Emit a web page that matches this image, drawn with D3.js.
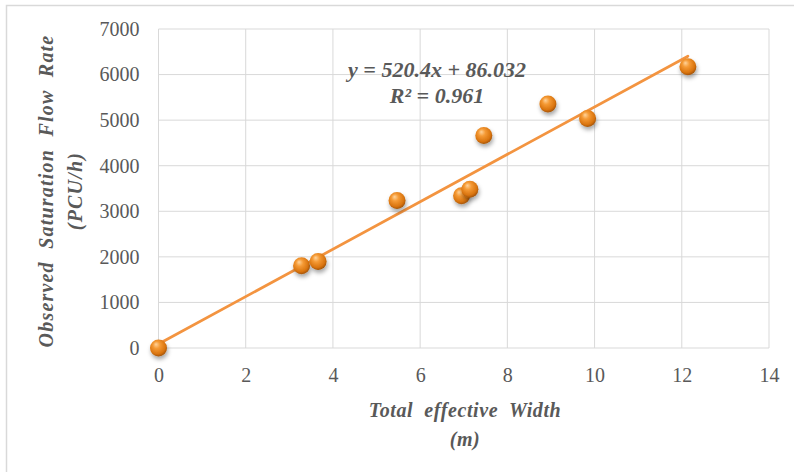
<!DOCTYPE html>
<html>
<head>
<meta charset="utf-8">
<script src="https://cdn.jsdelivr.net/npm/d3@7"></script>
<style>
  html, body { margin: 0; padding: 0; background: #fff; }
  svg { display: block; }
  svg text { font-family: "Liberation Serif", "Times New Roman", serif; }
</style>
</head>
<body>
<svg id="chart" width="794" height="472"></svg>
<script>
var widths = [0, 3.28, 3.66, 5.47, 6.95, 7.14, 7.46, 8.93, 9.84, 12.14];
var flows = [0, 1804, 1899, 3236, 3339, 3486, 4661, 5356, 5034, 6174];

// linear trendline as printed on the chart
var slope = 520.4;
var intercept = 86.032;
var eqLabels = ["y = 520.4x + 86.032", "R\u00b2 = 0.961"];

var xTicks = [0, 2, 4, 6, 8, 10, 12, 14];
var yTicks = [0, 1000, 2000, 3000, 4000, 5000, 6000, 7000];
var xTitle = ["Total  effective  Width", "(m)"];
var yTitle = ["Observed  Saturation  Flow  Rate", "(PCU/h)"];

var svg = d3.select("#chart");
var margin = { left: 158.5, right: 25, top: 29, bottom: 124 };
var W = 794, H = 472;

var x = d3.scaleLinear().domain([0, 14]).range([margin.left, W - margin.right]);
var y = d3.scaleLinear().domain([0, 7000]).range([H - margin.bottom, margin.top]);

var textColor = "#595959",
    gridColor = "#d9d9d9",
    lineColor = "#f39440",
    fontFam = "Liberation Serif";

// defs: marker gradient + shadow
var defs = svg.append("defs");
var grad = defs.append("radialGradient")
    .attr("id", "ball")
    .attr("cx", "45%").attr("cy", "40%").attr("r", "60%")
    .attr("fx", "35%").attr("fy", "28%");
grad.append("stop").attr("offset", "0%").attr("stop-color", "#ffd39a");
grad.append("stop").attr("offset", "35%").attr("stop-color", "#f59a35");
grad.append("stop").attr("offset", "80%").attr("stop-color", "#d9740f");
grad.append("stop").attr("offset", "100%").attr("stop-color", "#a35305");

var shadow = defs.append("filter")
    .attr("id", "shadow")
    .attr("x", "-60%").attr("y", "-60%").attr("width", "220%").attr("height", "220%");
shadow.append("feDropShadow")
    .attr("dx", 1).attr("dy", 3).attr("stdDeviation", 2)
    .attr("flood-color", "#000").attr("flood-opacity", 0.35);

// outer chart border (cropped at right / bottom in the reference)
svg.append("rect")
    .attr("x", 6.5).attr("y", 5.5)
    .attr("width", 820).attr("height", 500)
    .attr("fill", "none")
    .attr("stroke", gridColor)
    .attr("stroke-width", 1.5);

// gridlines
var grid = svg.append("g");
grid.selectAll(".hgrid")
    .data(yTicks)
    .enter()
    .append("line")
    .attr("x1", x(0)).attr("x2", x(14))
    .attr("y1", function (d) { return y(d); })
    .attr("y2", function (d) { return y(d); })
    .attr("stroke", gridColor)
    .attr("stroke-width", 1);
grid.selectAll(".vgrid")
    .data(xTicks)
    .enter()
    .append("line")
    .attr("y1", y(0)).attr("y2", y(7000))
    .attr("x1", function (d) { return x(d); })
    .attr("x2", function (d) { return x(d); })
    .attr("stroke", gridColor)
    .attr("stroke-width", 1);

// axes (labels only, lines come from the grid)
var xAxis = svg.append("g")
    .attr("transform", "translate(0," + y(0) + ")")
    .call(d3.axisBottom(x).tickValues(xTicks).tickSize(0).tickPadding(20).tickFormat(d3.format("d")));
var yAxis = svg.append("g")
    .attr("transform", "translate(" + x(0) + ",0)")
    .call(d3.axisLeft(y).tickValues(yTicks).tickSize(0).tickPadding(19).tickFormat(d3.format("d")));
[xAxis, yAxis].forEach(function (ax) {
    ax.attr("font-family", fontFam).attr("font-size", 20);
    ax.select(".domain").remove();
    ax.selectAll("text").attr("fill", textColor);
});

// trendline
var xExt = d3.extent(widths);
svg.append("line")
    .attr("x1", x(xExt[0])).attr("y1", y(slope * xExt[0] + intercept))
    .attr("x2", x(xExt[1])).attr("y2", y(slope * xExt[1] + intercept))
    .attr("stroke", lineColor)
    .attr("stroke-width", 2.75)
    .attr("stroke-linecap", "round");

// markers
svg.append("g")
    .selectAll("circle")
    .data(widths)
    .enter()
    .append("circle")
    .attr("cx", function (d) { return x(d); })
    .attr("cy", function (d, i) { return y(flows[i]); })
    .attr("r", 8.5)
    .attr("fill", "url(#ball)")
    .attr("filter", "url(#shadow)");

// equation label
svg.append("g")
    .selectAll("text")
    .data(eqLabels)
    .enter()
    .append("text")
    .attr("x", 437)
    .attr("y", function (d, i) { return 77 + i * 26; })
    .attr("text-anchor", "middle")
    .attr("fill", textColor)
    .attr("font-family", fontFam)
    .attr("font-size", 22)
    .attr("font-weight", "bold")
    .attr("font-style", "italic")
    .text(function (d) { return d; });

// x axis title
svg.append("g")
    .selectAll("text")
    .data(xTitle)
    .enter()
    .append("text")
    .attr("x", 465)
    .attr("y", function (d, i) { return 417 + i * 29; })
    .attr("text-anchor", "middle")
    .attr("fill", textColor)
    .attr("font-family", fontFam)
    .attr("font-size", 20)
    .attr("font-weight", "bold")
    .attr("font-style", "italic")
    .style("letter-spacing", "0.6px")
    .style("white-space", "pre")
    .text(function (d) { return d; });

// y axis title
svg.append("g")
    .selectAll("text")
    .data(yTitle)
    .enter()
    .append("text")
    .attr("transform", function (d, i) { return "translate(" + (53 + i * 29) + ",191) rotate(-90)"; })
    .attr("text-anchor", "middle")
    .attr("fill", textColor)
    .attr("font-family", fontFam)
    .attr("font-size", 20)
    .attr("font-weight", "bold")
    .attr("font-style", "italic")
    .style("letter-spacing", "1.2px")
    .style("white-space", "pre")
    .text(function (d) { return d; });
</script>
</body>
</html>
